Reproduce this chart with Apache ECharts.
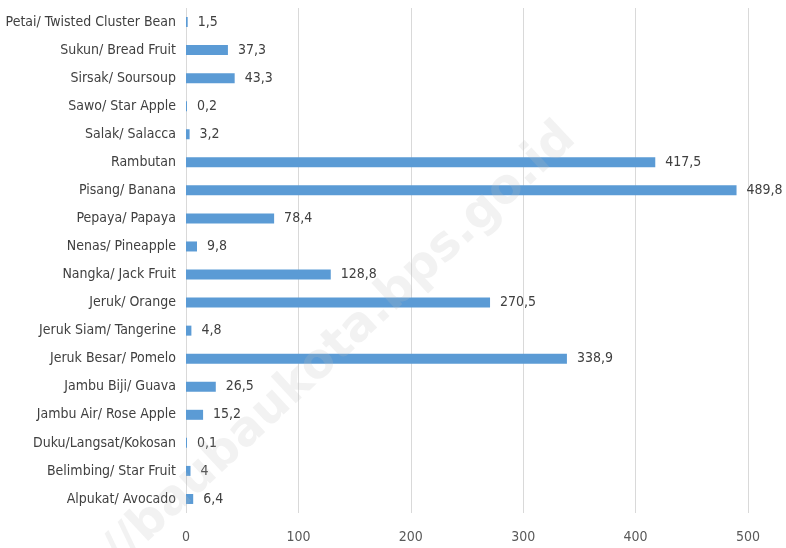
<!DOCTYPE html>
<html><head><meta charset="utf-8">
<script src="https://cdn.jsdelivr.net/npm/echarts@6/dist/echarts.min.js"></script>
<style>html,body{margin:0;padding:0;background:#fff}#c{width:786px;height:548px}</style>
</head><body><div id="c"></div>
<script>
const categories = ["Alpukat/ Avocado","Belimbing/ Star Fruit","Duku/Langsat/Kokosan","Jambu Air/ Rose Apple","Jambu Biji/ Guava","Jeruk Besar/ Pomelo","Jeruk Siam/ Tangerine","Jeruk/ Orange","Nangka/ Jack Fruit","Nenas/ Pineapple","Pepaya/ Papaya","Pisang/ Banana","Rambutan","Salak/ Salacca","Sawo/ Star Apple","Sirsak/ Soursoup","Sukun/ Bread Fruit","Petai/ Twisted Cluster Bean"];
const values = [6.4,4,0.1,15.2,26.5,338.9,4.8,270.5,128.8,9.8,78.4,489.8,417.5,3.2,0.2,43.3,37.3,1.5];
const xTicks = [0,100,200,300,400,500];
const FONT = '"Liberation Sans Narrow","DejaVu Sans Condensed",sans-serif';
const chart = echarts.init(document.getElementById('c'));
chart.setOption({
  animation:false,
  grid:{left:186,right:38,top:8,bottom:35,containLabel:false,outerBoundsMode:'none'},
  xAxis:{type:'value',min:xTicks[0],max:xTicks[xTicks.length-1],interval:100,
    axisLine:{show:false},axisTick:{show:false},
    axisLabel:{color:'#595959',fontFamily:FONT,fontSize:14,margin:17},
    splitLine:{show:true,lineStyle:{color:'#d9d9d9',width:1}}},
  yAxis:{type:'category',data:categories,
    axisLine:{show:false},axisTick:{show:false},
    axisLabel:{color:'#404040',fontFamily:FONT,fontSize:14,margin:10}},
  series:[{type:'bar',data:values,barWidth:10,barMinHeight:1,
    itemStyle:{color:'#5b9bd5'},
    label:{show:true,position:'right',distance:10,color:'#404040',fontFamily:FONT,fontSize:14,
      formatter:p=>String(p.value).replace('.',',')}}],
  graphic:[{type:'text',x:340,y:345,rotation:43*Math.PI/180,z:100,
    style:{text:'//baubaukota.bps.go.id',font:'bold 48px "DejaVu Sans",sans-serif',
      fill:'rgba(190,190,190,0.2)',textAlign:'center',textVerticalAlign:'middle'}}]
});
</script></body></html>
